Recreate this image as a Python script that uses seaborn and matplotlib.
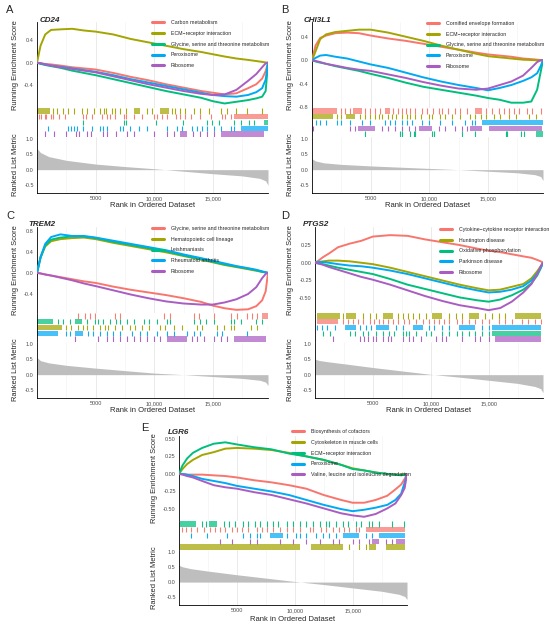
import numpy as np
import pandas as pd
import matplotlib
matplotlib.use("Agg")
import matplotlib.pyplot as plt
import seaborn as sns

# ---------------- data ----------------
N_GENES = 19700
RANK_KNOTS = [0, 300, 700, 1200, 2000, 3000, 4000, 5000, 6500, 8000, 9500, 11000,
              12500, 14000, 15000, 16000, 17000, 18000, 18700, 19200, 19500, 19700]
METRIC_KNOTS = [0, 300, 1000, 2500, 5000, 7500, 10000, 12500, 15000, 17500, 19000, 19500, 19700]
SET_COLORS = ["#F8766D", "#A3A500", "#00BF7D", "#00A9F4", "#A95DC2"]
X_TICKS = [5000, 10000, 15000]
X_TICK_LABELS = ["5000", "10,000", "15,000"]
METRIC_TICKS = [-0.5, 0.0, 0.5, 1.0]

# Panel A
A_GENE = "CD24"
A_SETS = ["Carbon metabolism", "ECM\u2212receptor interaction",
          "Glycine, serine and threonine metabolism", "Peroxisome", "Ribosome"]
A_ES = [
    [0, -0.01, -0.02, -0.03, -0.05, -0.08, -0.10, -0.12, -0.18, -0.25, -0.31, -0.38, -0.44, -0.50, -0.53, -0.56, -0.54, -0.45, -0.38, -0.28, -0.15, 0],
    [0, 0.30, 0.50, 0.58, 0.59, 0.60, 0.57, 0.55, 0.50, 0.42, 0.36, 0.30, 0.24, 0.19, 0.15, 0.11, 0.075, 0.05, 0.03, 0.015, 0.005, 0],
    [0, -0.02, -0.04, -0.06, -0.09, -0.14, -0.18, -0.22, -0.29, -0.36, -0.43, -0.50, -0.56, -0.62, -0.68, -0.72, -0.69, -0.66, -0.63, -0.60, -0.50, 0],
    [0, -0.01, -0.03, -0.05, -0.07, -0.10, -0.13, -0.16, -0.22, -0.29, -0.35, -0.41, -0.47, -0.53, -0.57, -0.59, -0.60, -0.57, -0.52, -0.45, -0.30, 0],
    [0, -0.01, -0.03, -0.05, -0.08, -0.11, -0.14, -0.17, -0.24, -0.31, -0.38, -0.44, -0.50, -0.55, -0.57, -0.56, -0.48, -0.32, -0.20, -0.08, -0.01, 0],
]
A_HIT_TICKS = [
    [170, 370, 660, 800, 1230, 1370, 1890, 2370, 3940, 4170, 4660, 5510, 5940, 6230, 6660, 7430, 7600, 8230, 8940, 9990, 10230, 10660, 11090, 11890, 12230, 12660, 13140, 13940, 14860, 15740, 16000, 16510],
    [1370, 1710, 2230, 2660, 3140, 3800, 4290, 4860, 5370, 5710, 5890, 6370, 6660, 7090, 7600, 9370, 9800, 11510, 11800, 12230, 12660, 13370, 13940, 14660, 15660, 16230, 16940, 17940, 19230],
    [3940, 7430, 7600, 10170, 12460, 14510, 14940, 15510, 16800, 17370, 18090, 18510],
    [940, 2660, 2860, 3140, 3430, 3940, 4660, 5370, 5660, 6000, 7090, 7310, 7940, 8740, 9370, 11090, 11940, 12370, 13230, 13660, 14090, 14510, 15080, 15660, 16510, 16800],
    [660, 1430, 2510, 3310, 3600, 4290, 4570, 5660, 6000, 6740, 7660, 8230, 9940, 11090, 11660, 13310, 13940, 14510, 15080],
]
A_HIT_BLOCKS = [
    [(16800, 19700)],
    [(0, 1090), (8230, 8800), (10510, 11230)],
    [(19370, 19700)],
    [(17370, 19700)],
    [(12230, 12800), (15660, 19400)],
]
A_ROW_ORDER = [1, 0, 2, 3, 4]
A_METRIC = [0.68, 0.55, 0.42, 0.30, 0.18, 0.10, 0.03, -0.05, -0.13, -0.20, -0.28, -0.36, -0.50]
A_ES_YLIM = (-0.80, 0.72)
A_ES_TICKS = [-0.4, 0.0, 0.4]

# Panel B
B_GENE = "CHI3L1"
B_SETS = ["Cornified envelope formation", "ECM\u2212receptor interaction",
          "Glycine, serine and threonine metabolism", "Peroxisome", "Ribosome"]
B_ES = [
    [0, 0.25, 0.38, 0.42, 0.46, 0.47, 0.46, 0.42, 0.37, 0.33, 0.28, 0.23, 0.18, 0.13, 0.10, 0.08, 0.06, 0.03, 0.02, 0.01, 0.005, 0],
    [0, 0.15, 0.36, 0.44, 0.48, 0.50, 0.52, 0.52, 0.47, 0.40, 0.33, 0.25, 0.18, 0.11, 0.07, 0.05, 0.03, 0.01, 0.005, 0.0, 0.0, 0],
    [0, -0.02, -0.04, -0.06, -0.10, -0.14, -0.18, -0.23, -0.30, -0.38, -0.45, -0.50, -0.55, -0.60, -0.64, -0.67, -0.72, -0.72, -0.70, -0.50, -0.20, 0],
    [0, 0.04, 0.08, 0.09, 0.06, 0.03, -0.02, -0.07, -0.13, -0.21, -0.29, -0.36, -0.42, -0.47, -0.51, -0.47, -0.42, -0.35, -0.29, -0.22, -0.10, 0],
    [0, -0.01, -0.03, -0.06, -0.09, -0.13, -0.16, -0.18, -0.24, -0.30, -0.37, -0.43, -0.48, -0.50, -0.48, -0.42, -0.36, -0.26, -0.13, -0.03, 0.0, 0],
]
B_HIT_TICKS = [
    [2510, 2800, 3230, 4510, 4940, 5370, 5800, 6940, 7310, 7660, 8000, 8370, 8800, 9370, 9800, 10290, 10800, 11090, 11600, 12230, 12660, 13230, 14800, 15370, 15940, 16370, 16800, 17230, 17660, 18370, 18800, 19510],
    [2090, 2510, 4090, 4510, 4940, 5370, 5710, 6000, 6510, 6860, 7140, 7660, 8090, 8370, 8800, 9310, 9940, 10230, 10940, 11370, 11940, 12660, 13510, 13940, 14370, 14800, 15510, 16000, 16800, 17370, 18510, 19090, 19660],
    [4510, 7510, 7660, 8370, 8660, 8800, 10230, 10370, 12800, 13940, 16510, 16660, 17800, 18090],
    [370, 660, 1230, 2090, 2510, 3230, 4230, 4940, 6230, 6660, 7090, 7660, 8090, 8510, 9370, 9940, 10940, 11940, 13090, 13660, 13940],
    [90, 3230, 3660, 5940, 6510, 7090, 7660, 8230, 8800, 10800, 11370, 12230, 12800, 13230],
]
B_HIT_BLOCKS = [
    [(0, 2090), (3510, 4230), (6230, 6660), (13940, 14510)],
    [(0, 1800), (2940, 3660)],
    [(19090, 19700)],
    [(14510, 19700)],
    [(3940, 5370), (9090, 10230), (13510, 14510), (15080, 19600)],
]
B_ROW_ORDER = [0, 1, 3, 4, 2]
B_METRIC = [0.35, 0.28, 0.22, 0.17, 0.12, 0.08, 0.04, 0.00, -0.05, -0.10, -0.16, -0.22, -0.35]
B_ES_YLIM = (-0.81, 0.65)
B_ES_TICKS = [-0.8, -0.4, 0.0, 0.4]

# Panel C
C_GENE = "TREM2"
C_SETS = ["Glycine, serine and threonine metabolism", "Hematopoietic cell lineage",
          "Leishmaniasis", "Rheumatoid arthritis", "Ribosome"]
C_ES = [
    [0, -0.01, -0.03, -0.05, -0.08, -0.12, -0.16, -0.19, -0.26, -0.32, -0.37, -0.42, -0.48, -0.55, -0.62, -0.67, -0.70, -0.69, -0.63, -0.52, -0.35, 0],
    [0, 0.30, 0.50, 0.60, 0.64, 0.66, 0.67, 0.64, 0.57, 0.51, 0.45, 0.39, 0.32, 0.25, 0.20, 0.15, 0.11, 0.07, 0.04, 0.02, 0.01, 0],
    [0, 0.28, 0.52, 0.63, 0.67, 0.69, 0.69, 0.66, 0.59, 0.53, 0.47, 0.41, 0.33, 0.26, 0.21, 0.16, 0.12, 0.08, 0.05, 0.02, 0.01, 0],
    [0, 0.30, 0.55, 0.68, 0.73, 0.70, 0.70, 0.67, 0.61, 0.55, 0.49, 0.43, 0.35, 0.28, 0.23, 0.18, 0.13, 0.09, 0.06, 0.03, 0.01, 0],
    [0, -0.01, -0.03, -0.05, -0.09, -0.14, -0.20, -0.25, -0.33, -0.41, -0.48, -0.54, -0.58, -0.60, -0.60, -0.56, -0.50, -0.40, -0.27, -0.10, -0.02, 0],
]
C_HIT_TICKS = [
    [3510, 4090, 4510, 4940, 6660, 7090, 10800, 11370, 13370, 13800, 15080, 16510, 17090, 17940, 18370, 18800],
    [2510, 2940, 3510, 3940, 4290, 4800, 5370, 5800, 6090, 6660, 7230, 7940, 8370, 8940, 9510, 10510, 10940, 11660, 12370, 13660, 14090, 15370, 15940, 16510, 16800, 18230, 18800, 19660],
    [1800, 2230, 2800, 4230, 4940, 5230, 5660, 6230, 6740, 7090, 7660, 8230, 9090, 9510, 10230, 11090, 11370, 13370, 13940, 14370, 15080, 16510, 16800, 17370, 18660, 19230],
    [2510, 2800, 4370, 4800, 5370, 5940, 6510, 7090, 8090, 8800, 9370, 10230, 11090, 11660, 12800, 13370, 13940, 15370, 15800, 17940],
    [3230, 5230, 5940, 6510, 7090, 7660, 8230, 8800, 9370, 9940, 10510, 13230, 13660, 14230, 15080, 15660, 16230],
]
C_HIT_BLOCKS = [
    [(19230, 19700)],
    [(0, 2090)],
    [(0, 1370), (3230, 3800)],
    [(0, 1800), (3230, 3940)],
    [(11090, 12800), (16800, 19510)],
]
C_ROW_ORDER = [0, 2, 1, 3, 4]
C_METRIC = [0.55, 0.45, 0.38, 0.30, 0.21, 0.13, 0.05, 0.00, -0.06, -0.12, -0.18, -0.24, -0.35]
C_ES_YLIM = (-0.76, 0.87)
C_ES_TICKS = [-0.4, 0.0, 0.4, 0.8]

# Panel D
D_GENE = "PTGS2"
D_SETS = ["Cytokine\u2212cytokine receptor interaction", "Huntington disease",
          "Oxidative phosphorylation", "Parkinson disease", "Ribosome"]
D_ES = [
    [0, 0.03, 0.08, 0.13, 0.22, 0.27, 0.31, 0.37, 0.39, 0.38, 0.33, 0.29, 0.25, 0.20, 0.17, 0.15, 0.12, 0.09, 0.07, 0.04, 0.02, 0],
    [0, 0.01, 0.02, 0.03, 0.03, 0.02, 0.00, -0.02, -0.07, -0.13, -0.19, -0.25, -0.31, -0.36, -0.39, -0.38, -0.34, -0.30, -0.22, -0.12, -0.05, 0],
    [0, -0.01, -0.02, -0.04, -0.07, -0.10, -0.13, -0.16, -0.23, -0.31, -0.37, -0.43, -0.49, -0.53, -0.55, -0.52, -0.46, -0.38, -0.29, -0.18, -0.08, 0],
    [0, 0.01, 0.01, 0.00, -0.02, -0.04, -0.05, -0.07, -0.11, -0.16, -0.22, -0.28, -0.34, -0.39, -0.42, -0.41, -0.38, -0.33, -0.25, -0.15, -0.07, 0],
    [0, -0.01, -0.03, -0.06, -0.10, -0.15, -0.20, -0.24, -0.31, -0.39, -0.47, -0.54, -0.60, -0.64, -0.67, -0.64, -0.55, -0.42, -0.30, -0.16, -0.05, 0],
]
D_HIT_TICKS = [
    [2430, 2860, 3290, 3710, 4140, 4710, 5140, 5570, 5860, 6290, 6710, 7140, 7710, 8140, 8710, 9290, 9860, 10290, 10710, 11140, 11570, 12290, 12710, 13290, 13860, 14430, 15000, 15860, 16430, 17000, 17860, 18430, 19000, 19570],
    [2430, 4140, 4710, 5290, 7140, 7570, 8000, 8430, 9000, 9570, 11570, 12140, 12710, 14710, 15290, 15860, 16430],
    [710, 1290, 3000, 3430, 4140, 4570, 5290, 5860, 6430, 6860, 7570, 7860, 8140, 8710, 9570, 10000, 11000, 11570, 12290, 12710, 13290, 13860, 14430, 15000],
    [140, 570, 1000, 1710, 3860, 4430, 4860, 7000, 7570, 9860, 10290, 11000, 11570, 14430, 15000],
    [1570, 3860, 4200, 4570, 5000, 5290, 5860, 6290, 6570, 7570, 8140, 8430, 9140, 10430, 11000, 11290, 12710, 13860, 14290, 15000],
]
D_HIT_BLOCKS = [
    [(140, 2000)],
    [(140, 2140), (2710, 3570), (5860, 6710), (10140, 11000), (13290, 14140), (17290, 19570)],
    [(15290, 19570)],
    [(2570, 3570), (5290, 6430), (8430, 9290), (12430, 13860), (15290, 19570)],
    [(15570, 19570)],
]
D_ROW_ORDER = [1, 0, 3, 2, 4]
D_METRIC = [0.50, 0.46, 0.42, 0.35, 0.23, 0.12, 0.01, -0.08, -0.18, -0.28, -0.38, -0.45, -0.58]
D_ES_YLIM = (-0.71, 0.505)
D_ES_TICKS = [-0.5, -0.25, 0.0, 0.25]

# Panel E
E_GENE = "LGR6"
E_SETS = ["Biosynthesis of cofactors", "Cytoskeleton in muscle cells",
          "ECM\u2212receptor interaction", "Peroxisome",
          "Valine, leucine and isoleucine degradation"]
E_ES = [
    [0, 0.0, -0.01, -0.01, -0.01, -0.02, -0.03, -0.05, -0.09, -0.12, -0.16, -0.21, -0.30, -0.37, -0.41, -0.41, -0.37, -0.31, -0.22, -0.15, -0.07, 0],
    [0, 0.07, 0.14, 0.20, 0.27, 0.31, 0.36, 0.37, 0.36, 0.34, 0.30, 0.25, 0.20, 0.13, 0.08, 0.05, 0.02, 0.0, -0.01, -0.01, 0.0, 0],
    [0, 0.12, 0.22, 0.30, 0.37, 0.43, 0.45, 0.42, 0.38, 0.35, 0.29, 0.25, 0.20, 0.13, 0.07, 0.05, 0.02, 0.0, -0.01, -0.02, -0.01, 0],
    [0, 0.0, -0.01, -0.03, -0.07, -0.10, -0.13, -0.17, -0.21, -0.25, -0.30, -0.37, -0.44, -0.50, -0.53, -0.51, -0.48, -0.44, -0.37, -0.28, -0.12, 0],
    [0, -0.01, -0.03, -0.05, -0.10, -0.16, -0.19, -0.21, -0.26, -0.30, -0.36, -0.42, -0.49, -0.56, -0.59, -0.61, -0.57, -0.49, -0.42, -0.30, -0.20, 0],
]
E_HIT_TICKS = [
    [290, 570, 1000, 1570, 2140, 2710, 3140, 3570, 4000, 4570, 5000, 5430, 6000, 6710, 7140, 7570, 8140, 8710, 9290, 9860, 10430, 11290, 11570, 12290, 12710, 13290, 13860, 14290, 14710, 15290, 15570],
    [14710, 15570, 16140],
    [2000, 2290, 3860, 4290, 4860, 5570, 6000, 6570, 7000, 7570, 8140, 8570, 9290, 9860, 10430, 11000, 11570, 12140, 12710, 13000, 13570, 14140, 14570, 15290, 15710, 16430, 16710, 17290, 18430, 19430],
    [1000, 2430, 4140, 5570, 6140, 6710, 7000, 9290, 10140, 10430, 11000, 11860, 12430, 13000, 13570, 16140, 16710],
    [3570, 4570, 6140, 6710, 8710, 9860, 11000, 12140, 13290, 13860, 15000, 15570, 16430, 17860, 18430],
]
E_HIT_BLOCKS = [
    [(16140, 19570)],
    [(90, 10430), (11430, 14140), (16430, 17000), (17860, 19570)],
    [(90, 1430), (2570, 3290)],
    [(7860, 9000), (14140, 15570), (17290, 19570)],
    [(16710, 17290), (18710, 19570)],
]
E_ROW_ORDER = [2, 0, 3, 4, 1]
E_METRIC = [0.55, 0.50, 0.44, 0.36, 0.24, 0.13, 0.02, -0.08, -0.19, -0.30, -0.40, -0.47, -0.57]
E_ES_YLIM = (-0.67, 0.54)
E_ES_TICKS = [-0.5, -0.25, 0.0, 0.25, 0.5]

# ---------------- layout (pixels) ----------------
W, H = 550, 628
sns.set_theme(style="white")
plt.rcParams["font.family"] = ["Liberation Sans", "DejaVu Sans"]
plt.rcParams["axes.unicode_minus"] = False

fig = plt.figure(figsize=(W / 100, H / 100), dpi=100)
fig.patch.set_facecolor("white")


def px_axes(l, t, r, b):
    return fig.add_axes([l / W, 1 - b / H, (r - l) / W, (b - t) / H])


def style_left(ax):
    for s in ["top", "right", "bottom"]:
        ax.spines[s].set_visible(False)
    ax.spines["left"].set_color("black")
    ax.spines["left"].set_linewidth(0.6)


def add_grid(ax):
    ax.set_xticks(X_TICKS)
    ax.set_xticks([2500, 7500, 12500, 17500], minor=True)
    ax.grid(axis="x", which="major", color="#E6E6E6", lw=0.6, zorder=0)
    ax.grid(axis="x", which="minor", color="#F2F2F2", lw=0.4, zorder=0)
    ax.grid(axis="y", visible=False)
    ax.set_axisbelow(True)


def draw_panel(letter, gene, sets, es, hit_ticks, hit_blocks, row_order, metric,
               es_ylim, es_ticks, fmt, L):
    left, right, top, es_b, hit_b, bottom = L["box"]
    # ES panel
    ax1 = px_axes(left, top, right, es_b)
    df = pd.DataFrame({
        "rank": np.tile(RANK_KNOTS, len(sets)),
        "es": np.concatenate([np.asarray(v, float) for v in es]),
        "set": np.repeat(sets, len(RANK_KNOTS)),
    })
    sns.lineplot(data=df, x="rank", y="es", hue="set", hue_order=sets,
                 palette=SET_COLORS, estimator=None, sort=False, lw=1.4,
                 ax=ax1, legend=True, zorder=3)
    handles, labels = ax1.get_legend_handles_labels()
    if ax1.get_legend() is not None:
        ax1.get_legend().remove()
    ax1.set_xlim(0, N_GENES)
    ax1.set_ylim(*es_ylim)
    add_grid(ax1)
    ax1.tick_params(axis="x", which="both", length=0, labelbottom=False)
    ax1.set_yticks(es_ticks)
    ax1.set_yticklabels([fmt.format(v) for v in es_ticks])
    ax1.tick_params(axis="y", length=1.5, width=0.5, pad=0.8, labelsize=4,
                    labelcolor="#4D4D4D", color="#333333")
    ax1.set_xlabel("")
    ax1.set_ylabel("")
    style_left(ax1)
    ax1.patch.set_alpha(0)
    kx, ky = L["leg"]
    leg = ax1.legend(handles, labels, loc="upper left",
                     bbox_to_anchor=(kx / W, 1 - ky / H),
                     bbox_transform=fig.transFigure, frameon=False,
                     fontsize=3.8, handlelength=2.2, handletextpad=1.4,
                     labelspacing=1.08, borderpad=0, borderaxespad=0)
    for ln in leg.get_lines():
        ln.set_linewidth(2.2)
    leg.set_zorder(10)

    # hits panel
    ax2 = px_axes(left, es_b, right, hit_b)
    n = len(sets)
    for r, idx in enumerate(row_order):
        y0 = n - r - 1 + 0.04
        y1 = n - r - 0.04
        col = SET_COLORS[idx]
        ax2.vlines(hit_ticks[idx], y0, y1, color=col, lw=0.8, alpha=0.95)
        spans = [(s, e - s) for s, e in hit_blocks[idx]]
        ax2.broken_barh(spans, (y0, y1 - y0), facecolors=col, alpha=0.72, lw=0)
    ax2.set_xlim(0, N_GENES)
    ax2.set_ylim(0, n)
    ax2.set_xticks([])
    ax2.set_yticks([])
    ax2.grid(False)
    style_left(ax2)

    # ranked list panel
    ax3 = px_axes(left, hit_b, right, bottom)
    ax3.fill_between(METRIC_KNOTS, metric, 0, color="#BEBEBE", lw=0, zorder=2)
    ax3.set_xlim(0, N_GENES)
    ax3.set_ylim(-0.75, 1.05)
    add_grid(ax3)
    ax3.set_xticklabels(X_TICK_LABELS)
    ax3.set_yticks(METRIC_TICKS)
    ax3.set_yticklabels(["{:.1f}".format(v) for v in METRIC_TICKS])
    ax3.tick_params(axis="both", which="major", length=1.5, width=0.5, pad=0.8,
                    labelsize=4, labelcolor="#4D4D4D", color="#333333")
    ax3.tick_params(axis="x", which="minor", length=0)
    for s in ["top", "right"]:
        ax3.spines[s].set_visible(False)
    for s in ["left", "bottom"]:
        ax3.spines[s].set_color("black")
        ax3.spines[s].set_linewidth(0.6)

    # texts
    lx = L["ylab_x"]
    fig.text(lx / W, 1 - (top + es_b) / 2 / H, "Running Enrichment Score",
             rotation=90, ha="center", va="center", fontsize=5.4)
    fig.text(lx / W, 1 - (hit_b + bottom) / 2 / H, "Ranked List Metric",
             rotation=90, ha="center", va="center", fontsize=5.4)
    fig.text((left + right) / 2 / W, 1 - L["xlab_y"] / H, "Rank in Ordered Dataset",
             ha="center", va="center", fontsize=5.5)
    tx, ty = L["title"]
    fig.text(tx / W, 1 - ty / H, gene, ha="left", va="baseline", fontsize=5.8,
             fontweight="bold", fontstyle="italic")
    px_, py_ = L["letter"]
    fig.text(px_ / W, 1 - py_ / H, letter, ha="center", va="center", fontsize=8)


LAYOUT = {
    "A": dict(box=(37, 268, 22, 108, 137, 193), leg=(152, 20.3), ylab_x=15.5,
              xlab_y=205.6, title=(40, 21.5), letter=(10, 10)),
    "B": dict(box=(312, 543, 22, 108, 137, 193), leg=(427, 21), ylab_x=290.5,
              xlab_y=205.6, title=(304, 22), letter=(285, 10)),
    "C": dict(box=(37, 268, 227, 313, 342, 398), leg=(152, 226), ylab_x=15.5,
              xlab_y=410.6, title=(28, 226.5), letter=(10, 216)),
    "D": dict(box=(315, 543, 227, 313, 342, 398), leg=(440, 227), ylab_x=290.5,
              xlab_y=410.6, title=(303, 226.5), letter=(285, 216)),
    "E": dict(box=(179, 407, 436, 521, 550, 605), leg=(292, 429.3), ylab_x=154.5,
              xlab_y=619.2, title=(168, 434.5), letter=(145, 428)),
}

draw_panel("A", A_GENE, A_SETS, A_ES, A_HIT_TICKS, A_HIT_BLOCKS, A_ROW_ORDER, A_METRIC,
           A_ES_YLIM, A_ES_TICKS, "{:.1f}", LAYOUT["A"])
draw_panel("B", B_GENE, B_SETS, B_ES, B_HIT_TICKS, B_HIT_BLOCKS, B_ROW_ORDER, B_METRIC,
           B_ES_YLIM, B_ES_TICKS, "{:.1f}", LAYOUT["B"])
draw_panel("C", C_GENE, C_SETS, C_ES, C_HIT_TICKS, C_HIT_BLOCKS, C_ROW_ORDER, C_METRIC,
           C_ES_YLIM, C_ES_TICKS, "{:.1f}", LAYOUT["C"])
draw_panel("D", D_GENE, D_SETS, D_ES, D_HIT_TICKS, D_HIT_BLOCKS, D_ROW_ORDER, D_METRIC,
           D_ES_YLIM, D_ES_TICKS, "{:.2f}", LAYOUT["D"])
draw_panel("E", E_GENE, E_SETS, E_ES, E_HIT_TICKS, E_HIT_BLOCKS, E_ROW_ORDER, E_METRIC,
           E_ES_YLIM, E_ES_TICKS, "{:.2f}", LAYOUT["E"])

fig.savefig("out.png", dpi=100, facecolor="white")
